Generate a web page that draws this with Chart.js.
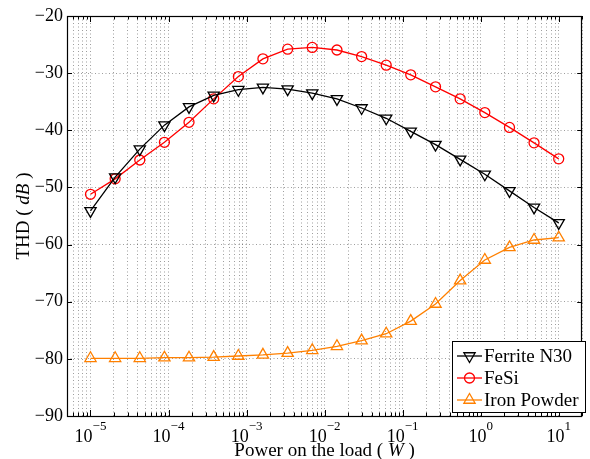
<!DOCTYPE html>
<html>
<head>
<meta charset="utf-8">
<title>THD vs power on the load</title>
<script src="https://cdn.jsdelivr.net/npm/chart.js@4.4.1/dist/chart.umd.min.js"></script>
<style>
  html, body { margin: 0; padding: 0; background: #fff; }
  #chart { display: block; }
</style>
</head>
<body>
<canvas id="chart" width="590" height="459"></canvas>
<script>
// Power on the load (W), log spaced
const powerW = [1e-5, 2.07e-5, 4.28e-5, 8.86e-5, 1.83e-4, 3.79e-4, 7.85e-4, 1.62e-3, 3.36e-3, 6.95e-3,
                1.44e-2, 2.98e-2, 6.16e-2, 0.127, 0.264, 0.546, 1.13, 2.34, 4.83, 10];

// THD in dB per core material
const ferriteN30 = [-54.1, -48.2, -43.3, -39.1, -35.9, -33.9, -32.9, -32.5, -32.8, -33.5,
                    -34.5, -36.1, -37.9, -40.2, -42.5, -45.1, -47.7, -50.6, -53.5, -56.2];
const feSi = [-51.2, -48.5, -45.2, -42.1, -38.6, -34.5, -30.6, -27.5, -25.8, -25.5,
              -25.95, -27.1, -28.6, -30.3, -32.4, -34.5, -36.9, -39.5, -42.2, -45.0];
const ironPowder = [-79.9, -79.9, -79.9, -79.8, -79.8, -79.7, -79.5, -79.3, -79.0, -78.5,
                    -77.8, -76.8, -75.6, -73.4, -70.4, -66.3, -62.7, -60.5, -59.2, -58.8];

// axis ticks
const decadeExponents = [-5, -4, -3, -2, -1, 0, 1];
const yTicks = [-90, -80, -70, -60, -50, -40, -30, -20];

const FONT = "'Liberation Serif', 'DejaVu Serif', serif";
const GRID = 'rgba(0, 0, 0, 0.38)';

function toPoints(ys) {
    return powerW.map((x, i) => ({ x: x, y: ys[i] }));
}

// all log ticks (1..9 x 10^e) inside the x range, used for the minor grid
function logTicks(min, max) {
    const out = [];
    for (let e = -6; e <= 2; e++) {
        for (let m = 1; m <= 9; m++) {
            const v = m * Math.pow(10, e);
            if (v >= min * 0.9999 && v <= max * 1.0001) out.push({ value: v, major: m === 1 });
        }
    }
    return out;
}

function drawMarker(ctx, style, x, y, r, rot, color) {
    ctx.save();
    ctx.strokeStyle = color;
    ctx.lineWidth = 1.3;
    ctx.beginPath();
    if (style === 'circle') {
        ctx.arc(x, y, r, 0, Math.PI * 2);
    } else {
        let a = rot * Math.PI / 180;
        ctx.moveTo(x + Math.sin(a) * r, y - Math.cos(a) * r);
        a += 2 * Math.PI / 3;
        ctx.lineTo(x + Math.sin(a) * r, y - Math.cos(a) * r);
        a += 2 * Math.PI / 3;
        ctx.lineTo(x + Math.sin(a) * r, y - Math.cos(a) * r);
        ctx.closePath();
    }
    ctx.stroke();
    ctx.restore();
}

// draws text pieces (normal / italic) one after another, centred on cx
function drawMixed(ctx, parts, cx, y, size) {
    let total = 0;
    parts.forEach(p => { ctx.font = p[1] + size + 'px ' + FONT; total += ctx.measureText(p[0]).width; });
    let x = cx - total / 2;
    parts.forEach(p => {
        ctx.font = p[1] + size + 'px ' + FONT;
        ctx.fillText(p[0], x, y);
        x += ctx.measureText(p[0]).width;
    });
}

// frame, inward ticks, x labels with exponents, axis titles, legend
const matlabAxes = {
    id: 'matlabAxes',
    afterDatasetsDraw(chart) {
        const ctx = chart.ctx;
        const a = chart.chartArea;
        const xs = chart.scales.x;
        const ys = chart.scales.y;
        ctx.save();

        // ticks
        ctx.strokeStyle = '#000';
        ctx.lineWidth = 1;
        ctx.beginPath();
        logTicks(xs.min, xs.max).forEach(t => {
            const px = Math.round(xs.getPixelForValue(t.value)) + 0.5;
            const len = t.major ? 6 : 3.5;
            ctx.moveTo(px, a.bottom); ctx.lineTo(px, a.bottom - len);
            ctx.moveTo(px, a.top); ctx.lineTo(px, a.top + len);
        });
        yTicks.forEach(v => {
            const py = Math.round(ys.getPixelForValue(v)) + 0.5;
            ctx.moveTo(a.left, py); ctx.lineTo(a.left + 5, py);
            ctx.moveTo(a.right, py); ctx.lineTo(a.right - 5, py);
        });
        ctx.stroke();

        // frame
        ctx.lineWidth = 1.2;
        ctx.strokeRect(Math.round(a.left) + 0.5, Math.round(a.top) + 0.5,
                       Math.round(a.right - a.left) - 1, Math.round(a.bottom - a.top));

        // x tick labels 10^e
        ctx.fillStyle = '#000';
        ctx.textBaseline = 'alphabetic';
        ctx.textAlign = 'left';
        decadeExponents.forEach(e => {
            const px = xs.getPixelForValue(Math.pow(10, e));
            const base = '10';
            const sup = e < 0 ? '\u2212' + Math.abs(e) : String(e);
            ctx.font = '18px ' + FONT;
            const wb = ctx.measureText(base).width;
            ctx.font = '13px ' + FONT;
            const ws = ctx.measureText(sup).width;
            const x0 = px - (wb + ws) / 2;
            ctx.font = '18px ' + FONT;
            ctx.fillText(base, x0, 441.5);
            ctx.font = '13px ' + FONT;
            ctx.fillText(sup, x0 + wb, 430);
        });

        // axis titles with italic units
        drawMixed(ctx, [['Power on the load ( ', ''], ['W', 'italic '], [' )', '']],
                  (a.left + a.right) / 2, 455.5, 19);
        ctx.save();
        ctx.translate(28.5, (a.top + a.bottom) / 2);
        ctx.rotate(-Math.PI / 2);
        drawMixed(ctx, [['THD ( ', ''], ['dB', 'italic '], [' )', '']], 0, 0, 19);
        ctx.restore();

        // legend box inside the plot, lower right
        const box = { x: 452.5, y: 341.5, w: 133, h: 71 };
        ctx.fillStyle = '#fff';
        ctx.fillRect(box.x, box.y, box.w, box.h);
        ctx.strokeStyle = '#000';
        ctx.lineWidth = 1;
        ctx.strokeRect(box.x, box.y, box.w, box.h);
        chart.data.datasets.forEach((ds, i) => {
            const ry = 356 + i * 22;
            ctx.strokeStyle = ds.borderColor;
            ctx.lineWidth = 1.3;
            ctx.beginPath();
            ctx.moveTo(457, ry); ctx.lineTo(482, ry);
            ctx.stroke();
            drawMarker(ctx, ds.pointStyle, 469.5, ry, ds.pointRadius, ds.rotation || 0, ds.borderColor);
            ctx.fillStyle = '#000';
            ctx.font = '19px ' + FONT;
            ctx.textAlign = 'left';
            ctx.textBaseline = 'middle';
            ctx.fillText(ds.label, 484, ry + 1);
        });

        ctx.restore();
    }
};

new Chart(document.getElementById('chart'), {
    type: 'line',
    data: {
        datasets: [
            {
                label: 'Ferrite N30',
                data: toPoints(ferriteN30),
                borderColor: '#000000',
                backgroundColor: 'rgba(0,0,0,0)',
                borderWidth: 1.3,
                pointStyle: 'triangle',
                rotation: 180,
                pointRadius: 6.5,
                pointBorderWidth: 1.3
            },
            {
                label: 'FeSi',
                data: toPoints(feSi),
                borderColor: '#ff0000',
                backgroundColor: 'rgba(0,0,0,0)',
                borderWidth: 1.3,
                pointStyle: 'circle',
                pointRadius: 5,
                pointBorderWidth: 1.3
            },
            {
                label: 'Iron Powder',
                data: toPoints(ironPowder),
                borderColor: '#ff8000',
                backgroundColor: 'rgba(0,0,0,0)',
                borderWidth: 1.3,
                pointStyle: 'triangle',
                pointRadius: 6.5,
                pointBorderWidth: 1.3
            }
        ]
    },
    options: {
        responsive: false,
        animation: false,
        devicePixelRatio: 1,
        layout: { padding: { left: 0, right: 3, top: 16, bottom: 0 } },
        plugins: {
            legend: { display: false },
            tooltip: { enabled: false }
        },
        elements: { point: { hoverRadius: 6 }, line: { tension: 0 } },
        scales: {
            x: {
                type: 'logarithmic',
                min: 5e-6,
                max: 20,
                afterBuildTicks: scale => { scale.ticks = logTicks(scale.min, scale.max); },
                afterFit: scale => { scale.height = 43; },
                ticks: { display: false },
                grid: { color: GRID, lineWidth: 1, drawTicks: false },
                border: { display: false, dash: [1, 2.5] }
            },
            y: {
                min: -90,
                max: -20,
                afterBuildTicks: scale => { scale.ticks = yTicks.map(v => ({ value: v })); },
                afterFit: scale => { scale.width = 67; },
                ticks: {
                    color: '#000',
                    padding: 4,
                    font: { family: FONT, size: 18 },
                    callback: v => (v < 0 ? '\u2212' + Math.abs(v) : String(v))
                },
                grid: { color: GRID, lineWidth: 1, drawTicks: false },
                border: { display: false, dash: [1, 2.5] }
            }
        }
    },
    plugins: [matlabAxes]
});
</script>
</body>
</html>
